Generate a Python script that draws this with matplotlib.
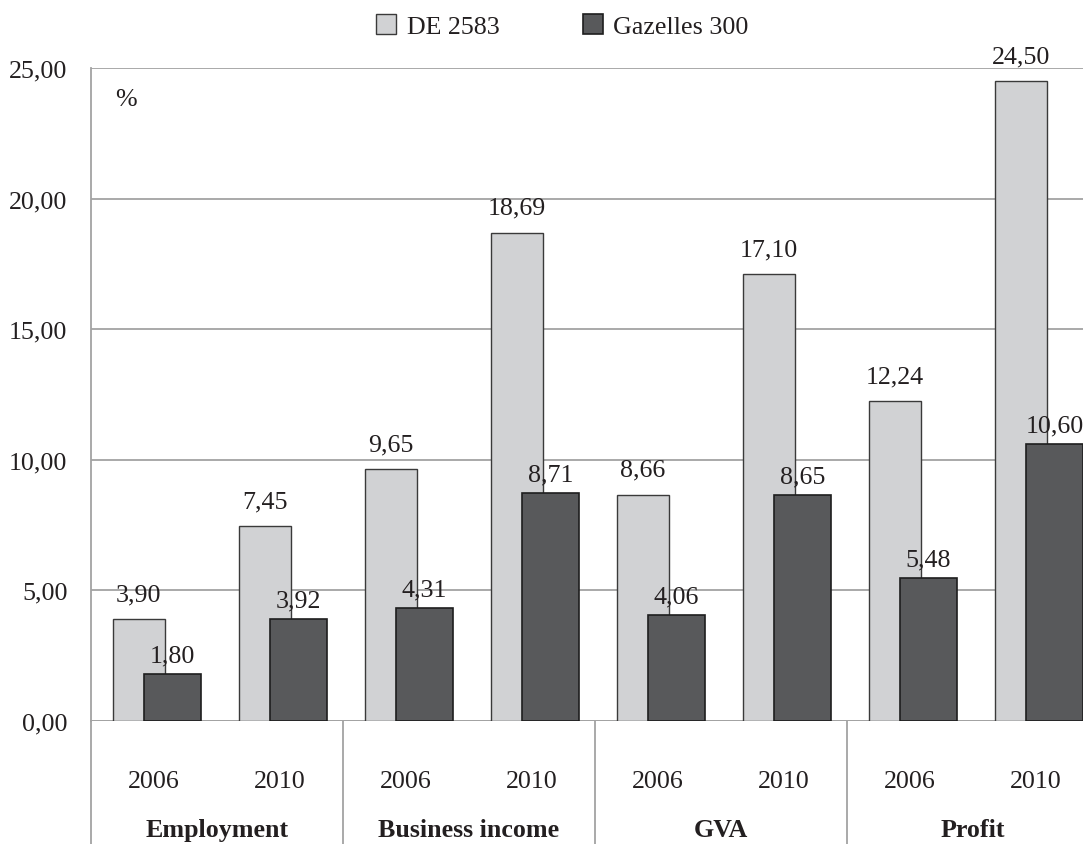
import matplotlib
matplotlib.use("Agg")
import matplotlib.pyplot as plt
from matplotlib.patches import Patch
from matplotlib.transforms import blended_transform_factory
import numpy as np

# Growth indicators, % (DE 2583 vs Gazelles 300)
groups = ["Employment", "Business income", "GVA", "Profit"]
years = ["2006", "2010"]
de_2583 = [3.90, 7.45, 9.65, 18.69, 8.66, 17.10, 12.24, 24.50]
gazelles_300 = [1.80, 3.92, 4.31, 8.71, 4.06, 8.65, 5.48, 10.60]
y_ticks = [0, 5, 10, 15, 20, 25]

plt.rcParams["font.family"] = ["Liberation Serif", "DejaVu Serif"]
TXT = "#231f20"
GRID = "#a3a3a3"
LIGHT = "#d1d2d4"
DARK = "#58595b"
FS = 18.7

fig = plt.figure(figsize=(10.83, 8.45), dpi=100)
# axes spans 4 groups of 2 categories; the last group runs past the right edge
ax = fig.add_axes([91 / 1083, 1 - 722 / 845, 1008 / 1083, 653 / 845])

n = len(de_2583)
x = np.arange(n) + 0.5
light_w, dark_w = 0.41, 0.45
light_off, dark_off = -0.12, 0.147

ax.bar(x + light_off, de_2583, width=light_w, color=LIGHT,
       edgecolor="#3a3a3a", linewidth=1.0, zorder=3)
ax.bar(x + dark_off, gazelles_300, width=dark_w, color=DARK,
       edgecolor="#1e1e1e", linewidth=1.2, zorder=4)

fmt = lambda v: f"{v:.2f}".replace(".", ",")
for xi, v in zip(x + light_off, de_2583):
    ax.annotate(fmt(v), (xi, v), xytext=(0, 10), textcoords="offset points",
                ha="center", va="bottom", fontsize=FS, color=TXT, zorder=5)
for xi, v in zip(x + dark_off, gazelles_300):
    ax.annotate(fmt(v), (xi, v), xytext=(0, 5.5), textcoords="offset points",
                ha="center", va="bottom", fontsize=FS, color=TXT, zorder=5)

ax.set_xlim(0, n)
ax.set_ylim(0, 25)
ax.set_yticks(y_ticks)
ax.set_yticklabels([fmt(t) for t in y_ticks], fontsize=FS, color=TXT)
ax.tick_params(axis="y", length=0, pad=17)
ax.set_xticks([])
ax.yaxis.grid(True, color=GRID, linewidth=1.3, zorder=0)
ax.set_axisbelow(True)
for side in ["top", "right", "bottom"]:
    ax.spines[side].set_visible(False)
ax.spines["left"].set_color(GRID)
ax.spines["left"].set_linewidth(1.3)
ax.axhline(0, color=GRID, linewidth=1.3, zorder=2)

ax.text(0.024, 0.953, "%", transform=ax.transAxes, fontsize=FS, color=TXT,
        ha="left", va="center")

trans = blended_transform_factory(ax.transData, ax.transAxes)
# year labels and group labels beneath the axis
for xi, i in zip(x, range(n)):
    ax.text(xi, -0.092, years[i % 2], transform=trans, ha="center",
            va="center", fontsize=FS, color=TXT)
for g, name in enumerate(groups):
    ax.text(2 * g + 1, -0.166, name, transform=trans, ha="center",
            va="center", fontsize=FS, fontweight="bold", color=TXT)
for b in range(0, n + 1, 2):
    ax.plot([b, b], [0, -0.25], transform=trans, color=GRID, linewidth=1.3,
            clip_on=False)

handles = [Patch(facecolor=LIGHT, edgecolor="#3a3a3a", linewidth=1.0, label="DE 2583"),
           Patch(facecolor=DARK, edgecolor="#1e1e1e", linewidth=1.2, label="Gazelles 300")]
leg = fig.legend(handles=handles, loc="center left",
                 bbox_to_anchor=(376 / 1083, 1 - 27 / 845),
                 ncol=2, frameon=False, fontsize=FS, handlelength=0.78,
                 handleheight=0.78, handletextpad=0.4, columnspacing=3.2,
                 borderpad=0, borderaxespad=0)
for t in leg.get_texts():
    t.set_color(TXT)

fig.savefig("out.png", dpi=100)
